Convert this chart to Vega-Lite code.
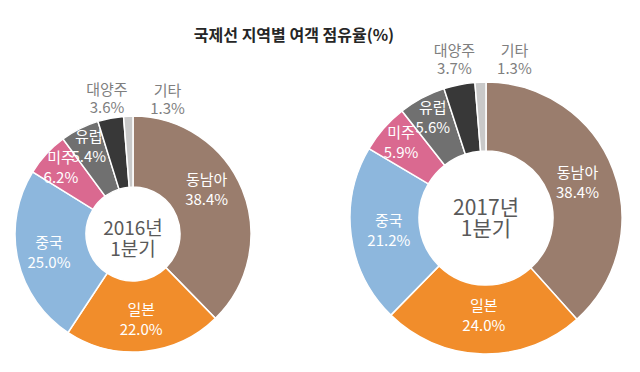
{
  "$schema": "https://vega.github.io/schema/vega-lite/v6.json",
  "width": 640,
  "height": 322,
  "autosize": {"type": "none"},
  "padding": {"top": 50, "left": 0, "right": 0, "bottom": 0},
  "background": "#ffffff",
  "config": {"view": {"stroke": null}, "font": "Noto Sans CJK KR"},
  "title": {
    "text": "국제선 지역별 여객 점유율(%)",
    "font": "Noto Sans CJK KR",
    "fontSize": 16,
    "fontWeight": "bold",
    "color": "#262626",
    "anchor": "middle",
    "dx": -26,
    "dy": 24,
    "offset": 8,
    "baseline": "alphabetic"
  },
  "data": {
    "values": [
      {"year": "2016", "region": "동남아", "share": 38.4},
      {"year": "2016", "region": "일본", "share": 22.0},
      {"year": "2016", "region": "중국", "share": 25.0},
      {"year": "2016", "region": "미주", "share": 6.2},
      {"year": "2016", "region": "유럽", "share": 5.4},
      {"year": "2016", "region": "대양주", "share": 3.6},
      {"year": "2016", "region": "기타", "share": 1.3},
      {"year": "2017", "region": "동남아", "share": 38.4},
      {"year": "2017", "region": "일본", "share": 24.0},
      {"year": "2017", "region": "중국", "share": 21.2},
      {"year": "2017", "region": "미주", "share": 5.9},
      {"year": "2017", "region": "유럽", "share": 5.6},
      {"year": "2017", "region": "대양주", "share": 3.7},
      {"year": "2017", "region": "기타", "share": 1.3}
    ]
  },
  "transform": [
    {"window": [{"op": "row_number", "as": "ord"}], "groupby": ["year"]},
    {"calculate": "datum.region + '\\n' + format(datum.share, '.1f') + '%'", "as": "label"}
  ],
  "encoding": {
    "x": {"field": "year", "type": "nominal", "scale": {"type": "point", "padding": 0, "domain": ["2016", "2017"], "range": [133, 486]}, "axis": null},
    "y": {"field": "year", "type": "nominal", "scale": {"type": "point", "padding": 0, "domain": ["2016", "2017"], "range": [184, 168]}, "axis": null}
  },
  "layer": [
    {
      "transform": [{"filter": "datum.year === '2016'"}],
      "layer": [
        {
          "mark": {"type": "arc", "outerRadius": 118, "innerRadius": 47, "stroke": "#ffffff", "strokeWidth": 1.5},
          "encoding": {
            "theta": {"field": "share", "type": "quantitative", "stack": "normalize"},
            "order": {"field": "ord", "type": "quantitative", "sort": "ascending"},
            "color": {
              "field": "region", "type": "nominal", "legend": null,
              "scale": {"domain": ["동남아", "일본", "중국", "미주", "유럽", "대양주", "기타"],
                        "range": ["#9A7D6D", "#F18D2B", "#8DB7DD", "#DA6990", "#707070", "#383838", "#C9C9C9"]}
            }
          }
        },
        {
          "mark": {"type": "text", "radius": 86, "dy": -10, "lineBreak": "\n", "fontSize": 15, "lineHeight": 20, "color": "#ffffff", "align": "center", "baseline": "middle", "font": "Noto Sans CJK KR"},
          "encoding": {
            "theta": {"field": "share", "type": "quantitative", "stack": "normalize"},
            "order": {"field": "ord", "type": "quantitative", "sort": "ascending"},
            "text": {"field": "label", "type": "nominal", "condition": {"test": "datum.region !== '일본' && datum.region !== '중국'", "value": ""}}
          }
        },
        {
          "mark": {"type": "text", "radius": 86, "dx": -6, "dy": -22, "lineBreak": "\n", "fontSize": 15, "lineHeight": 20, "color": "#ffffff", "align": "center", "baseline": "middle", "font": "Noto Sans CJK KR"},
          "encoding": {
            "theta": {"field": "share", "type": "quantitative", "stack": "normalize"},
            "order": {"field": "ord", "type": "quantitative", "sort": "ascending"},
            "text": {"field": "label", "type": "nominal", "condition": {"test": "datum.region !== '동남아'", "value": ""}}
          }
        },
        {
          "mark": {"type": "text", "radius": 98, "dy": -10, "lineBreak": "\n", "fontSize": 15, "lineHeight": 20, "color": "#ffffff", "align": "center", "baseline": "middle", "font": "Noto Sans CJK KR"},
          "encoding": {
            "theta": {"field": "share", "type": "quantitative", "stack": "normalize"},
            "order": {"field": "ord", "type": "quantitative", "sort": "ascending"},
            "text": {"field": "label", "type": "nominal", "condition": {"test": "datum.region !== '미주' && datum.region !== '유럽'", "value": ""}}
          }
        },
        {
          "mark": {"type": "text", "radius": 137, "dy": -9, "lineBreak": "\n", "fontSize": 15, "lineHeight": 18, "color": "#7F7F7F", "align": "center", "baseline": "middle", "font": "Noto Sans CJK KR"},
          "encoding": {
            "theta": {"field": "share", "type": "quantitative", "stack": "normalize"},
            "order": {"field": "ord", "type": "quantitative", "sort": "ascending"},
            "text": {"field": "label", "type": "nominal", "condition": {"test": "datum.region !== '대양주'", "value": ""}}
          }
        },
        {
          "mark": {"type": "text", "radius": 137, "dx": 40, "dy": -6, "lineBreak": "\n", "fontSize": 15, "lineHeight": 18, "color": "#7F7F7F", "align": "center", "baseline": "middle", "font": "Noto Sans CJK KR"},
          "encoding": {
            "theta": {"field": "share", "type": "quantitative", "stack": "normalize"},
            "order": {"field": "ord", "type": "quantitative", "sort": "ascending"},
            "text": {"field": "label", "type": "nominal", "condition": {"test": "datum.region !== '기타'", "value": ""}}
          }
        },
        {
          "transform": [{"filter": "datum.ord === 1"}],
          "mark": {"type": "text", "fontSize": 19, "lineHeight": 21, "dy": -5, "color": "#595959", "align": "center", "baseline": "middle", "font": "Noto Sans CJK KR"},
          "encoding": {"text": {"value": ["2016년", "1분기"]}}
        }
      ]
    },
    {
      "transform": [{"filter": "datum.year === '2017'"}],
      "layer": [
        {
          "mark": {"type": "arc", "outerRadius": 136, "innerRadius": 67, "stroke": "#ffffff", "strokeWidth": 1.5},
          "encoding": {
            "theta": {"field": "share", "type": "quantitative", "stack": "normalize"},
            "order": {"field": "ord", "type": "quantitative", "sort": "ascending"},
            "color": {
              "field": "region", "type": "nominal", "legend": null,
              "scale": {"domain": ["동남아", "일본", "중국", "미주", "유럽", "대양주", "기타"],
                        "range": ["#9A7D6D", "#F18D2B", "#8DB7DD", "#DA6990", "#707070", "#383838", "#C9C9C9"]}
            }
          }
        },
        {
          "mark": {"type": "text", "radius": 98, "dy": -10, "lineBreak": "\n", "fontSize": 15, "lineHeight": 20, "color": "#ffffff", "align": "center", "baseline": "middle", "font": "Noto Sans CJK KR"},
          "encoding": {
            "theta": {"field": "share", "type": "quantitative", "stack": "normalize"},
            "order": {"field": "ord", "type": "quantitative", "sort": "ascending"},
            "text": {"field": "label", "type": "nominal", "condition": {"test": "datum.region !== '동남아' && datum.region !== '일본' && datum.region !== '중국'", "value": ""}}
          }
        },
        {
          "mark": {"type": "text", "radius": 113, "dy": -10, "lineBreak": "\n", "fontSize": 15, "lineHeight": 20, "color": "#ffffff", "align": "center", "baseline": "middle", "font": "Noto Sans CJK KR"},
          "encoding": {
            "theta": {"field": "share", "type": "quantitative", "stack": "normalize"},
            "order": {"field": "ord", "type": "quantitative", "sort": "ascending"},
            "text": {"field": "label", "type": "nominal", "condition": {"test": "datum.region !== '미주' && datum.region !== '유럽'", "value": ""}}
          }
        },
        {
          "mark": {"type": "text", "radius": 161, "dy": -9, "lineBreak": "\n", "fontSize": 15, "lineHeight": 18, "color": "#7F7F7F", "align": "center", "baseline": "middle", "font": "Noto Sans CJK KR"},
          "encoding": {
            "theta": {"field": "share", "type": "quantitative", "stack": "normalize"},
            "order": {"field": "ord", "type": "quantitative", "sort": "ascending"},
            "text": {"field": "label", "type": "nominal", "condition": {"test": "datum.region !== '대양주'", "value": ""}}
          }
        },
        {
          "mark": {"type": "text", "radius": 161, "dx": 35, "dy": -6, "lineBreak": "\n", "fontSize": 15, "lineHeight": 18, "color": "#7F7F7F", "align": "center", "baseline": "middle", "font": "Noto Sans CJK KR"},
          "encoding": {
            "theta": {"field": "share", "type": "quantitative", "stack": "normalize"},
            "order": {"field": "ord", "type": "quantitative", "sort": "ascending"},
            "text": {"field": "label", "type": "nominal", "condition": {"test": "datum.region !== '기타'", "value": ""}}
          }
        },
        {
          "transform": [{"filter": "datum.ord === 1"}],
          "mark": {"type": "text", "fontSize": 21, "lineHeight": 21, "dy": -9, "color": "#595959", "align": "center", "baseline": "middle", "font": "Noto Sans CJK KR"},
          "encoding": {"text": {"value": ["2017년", "1분기"]}}
        }
      ]
    }
  ]
}
